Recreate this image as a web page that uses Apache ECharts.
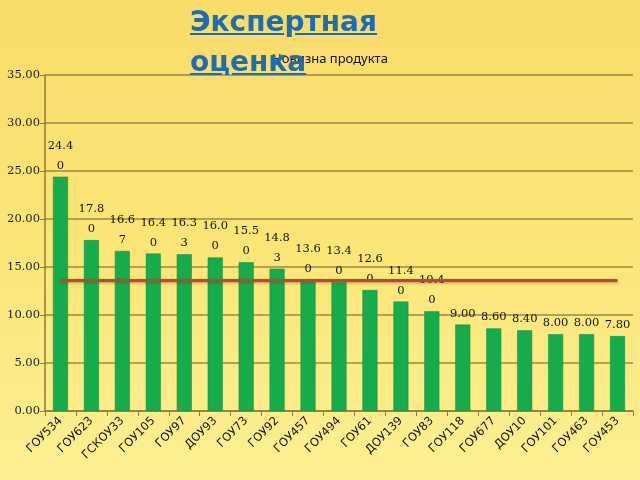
<!DOCTYPE html>
<html><head><meta charset="utf-8">
<script src="https://cdn.jsdelivr.net/npm/echarts@6/dist/echarts.min.js"></script>
<style>
html,body{margin:0;padding:0;}
body{width:640px;height:480px;background:linear-gradient(to bottom,#f9db6b 0%,#fbe576 50%,#fdef92 100%);position:relative;overflow:hidden;}
#c{width:640px;height:480px;position:absolute;left:0;top:0;}
#ov{position:absolute;left:190px;top:2px;font-family:"DejaVu Sans",sans-serif;font-weight:bold;font-size:28px;line-height:40px;color:#1d6db3;text-decoration:underline;z-index:5;pointer-events:none;}
</style></head>
<body>
<div id="c"></div>
<div id="ov">Экспертная<br>оценка</div>
<script>
const categories = ["ГОУ534","ГОУ623","ГСКОУ33","ГОУ105","ГОУ97","ДОУ93","ГОУ73","ГОУ92","ГОУ457","ГОУ494","ГОУ61","ДОУ139","ГОУ83","ГОУ118","ГОУ677","ДОУ10","ГОУ101","ГОУ463","ГОУ453"];
const values = [24.40,17.80,16.67,16.40,16.33,16.00,15.50,14.83,13.60,13.40,12.60,11.40,10.40,9.00,8.60,8.40,8.00,8.00,7.80];
const averageLevel = 13.6;
const averageLine = categories.map(() => averageLevel);
const yTicks = {min: 0, max: 35, interval: 5};

const chart = echarts.init(document.getElementById('c'), null, {renderer: 'canvas'});
chart.setOption({
  backgroundColor: 'transparent',
  title: {text: 'Новизна продукта', left: 325, top: 48, textAlign: 'center',
    textStyle: {fontFamily: 'Noto Sans', fontSize: 13, fontWeight: 'normal', color: '#111'}},
  grid: {left: 45, right: 7, top: 75, bottom: 69, containLabel: false},
  xAxis: {type: 'category', data: categories,
    axisLine: {lineStyle: {color: '#8c7d3a', width: 1.5}},
    axisTick: {show: true, lineStyle: {color: '#8c7d3a'}},
    axisLabel: {rotate: 45, interval: 0, fontFamily: 'DejaVu Sans', fontSize: 11.5, color: '#111', margin: 8}},
  yAxis: {type: 'value', min: yTicks.min, max: yTicks.max, interval: yTicks.interval,
    axisLine: {show: true, lineStyle: {color: '#8c7d3a', width: 1.5}},
    axisTick: {show: true, lineStyle: {color: '#8c7d3a'}},
    splitLine: {lineStyle: {color: '#9a8a45', width: 1.5}},
    axisLabel: {formatter: v => v.toFixed(2), fontFamily: 'DejaVu Serif', fontSize: 11.5, color: '#1a1a1a', margin: 5}},
  series: [
    {type: 'bar', data: values, barWidth: 15,
      itemStyle: {color: '#17ac4b', borderColor: '#0f8a3a', borderWidth: 0.5},
      label: {show: true, position: 'top', distance: 1,
        fontFamily: 'DejaVu Serif', fontSize: 11.5, color: '#111', lineHeight: 20,
        formatter: p => { const s = p.value.toFixed(2); return s.length > 4 ? s.slice(0,4) + '\n' + s.slice(4) : s; }},
      z: 2},
    {type: 'line', data: averageLine, symbol: 'none',
      lineStyle: {color: '#b8473a', width: 3, shadowColor: 'rgba(120,60,20,0.5)', shadowBlur: 3, shadowOffsetY: 1},
      z: 3}
  ]
});
</script>
</body></html>
